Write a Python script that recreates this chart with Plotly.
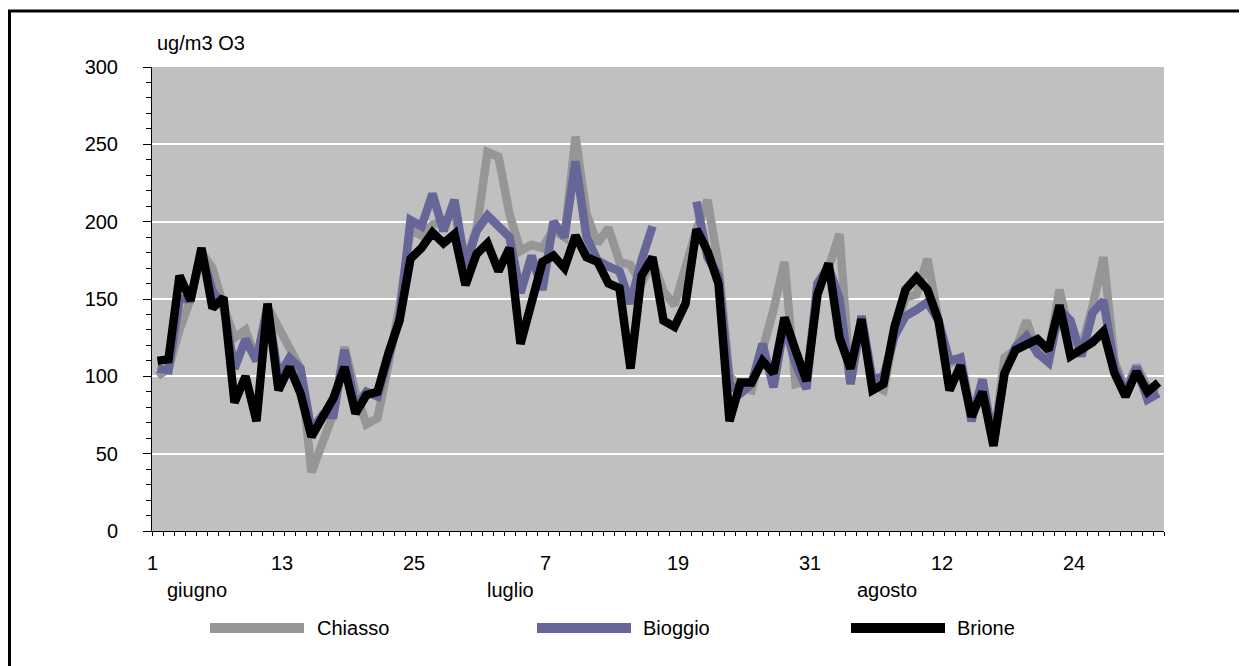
import plotly.graph_objects as go

# ---------------- data ----------------
days = list(range(1, 93))  # 1 June .. 31 August

chiasso = [100, 105, 130, 150, 180, 170, 145, 125, 130, 110,
           145, 132, 118, 105, 38, 59, 76, 119, 90, 69,
           73, 108, 145, 195, 191, 198, 200, 205, 175, 195,
           245, 242, 205, 181, 185, 183, 195, 190, 255, 205,
           186, 196, 174, 172, 160, 175, 155, 146, 170, 195,
           214, 172, 100, 93, 91, 115, 143, 174, 95, 97,
           160, 170, 192, 95, 136, 95, 91, 128, 151, 153,
           176, 136, 108, 112, 76, 95, 57, 112, 117, 136,
           115, 115, 156, 125, 119, 145, 177, 110, 91, 107,
           93, 91]

bioggio = [105, 104, 150, 150, 180, 155, 145, 105, 124, 110,
           145, 100, 112, 105, 65, 75, 75, 117, 80, 90,
           87, 115, 138, 201, 197, 218, 194, 214, 171, 194,
           204, 197, 190, 154, 178, 156, 200, 190, 239, 190,
           175, 171, 168, 147, 175, 197, None, None, None, 213,
           177, 165, 95, 89, 95, 121, 93, 134, 108, 92,
           160, 171, 150, 95, 139, 98, 100, 126, 139, 143,
           148, 136, 110, 112, 71, 98, 58, 102, 119, 126,
           115, 109, 143, 136, 113, 141, 149, 106, 89, 106,
           85, 89]

brione = [110, 111, 165, 149, 183, 144, 151, 83, 100, 71,
          147, 91, 106, 89, 61, 73, 86, 106, 76, 88,
          90, 115, 136, 176, 183, 193, 186, 192, 159, 179,
          186, 168, 183, 121, 147, 174, 178, 170, 191, 177,
          174, 160, 157, 105, 165, 177, 136, 132, 147, 195,
          181, 160, 71, 96, 96, 110, 102, 138, 117, 97,
          153, 173, 125, 105, 137, 91, 95, 132, 156, 164,
          156, 136, 91, 107, 74, 90, 55, 102, 117, 120,
          124, 117, 146, 113, 117, 122, 129, 102, 87, 103,
          90, 96]

series_names = ["Chiasso", "Bioggio", "Brione"]
series_colors = ["#969696", "#666699", "#000000"]

tick_days = [1, 13, 25, 37, 49, 61, 73, 85]
tick_labels = ["1", "13", "25", "7", "19", "31", "12", "24"]
month_names = ["giugno", "luglio", "agosto"]
month_centers = [4.6, 33.1, 67.3]
y_ticks = [0, 50, 100, 150, 200, 250, 300]
unit_label = "ug/m3 O3"

# ---------------- figure ----------------
FONT = "Liberation Sans, Arial, sans-serif"
W, H = 1247, 666
OFF = 8  # page body margin
# plot area in page pixels
PX0, PX1, PY0, PY1 = 152, 1164, 67, 531
L, T = PX0 - OFF, PY0 - OFF
R, B = W - (PX1 - OFF), H - (PY1 - OFF)
PW, PH = PX1 - PX0, PY1 - PY0
X_MIN, X_MAX = days[0] - 0.5, days[-1] + 0.5


def px_x(px):
    return (px - PX0) / PW


def px_y(py):
    return (PY1 - py) / PH


def day_to_paper(x):
    return (x - X_MIN) / (X_MAX - X_MIN)


fig = go.Figure()
for name, vals, col in zip(series_names, [chiasso, bioggio, brione], series_colors):
    fig.add_trace(go.Scatter(x=days, y=vals, mode="lines", name=name,
                             line=dict(color=col, width=8.5),
                             connectgaps=False, showlegend=False))

# category-boundary ticks (one per day)
bounds = [d - 0.5 for d in days] + [days[-1] + 0.5]

fig.update_xaxes(range=[X_MIN, X_MAX], showgrid=False, zeroline=False,
                 showline=True, linecolor="black", linewidth=1,
                 tickmode="array", tickvals=bounds, showticklabels=False,
                 ticks="outside", ticklen=4, tickcolor="black", tickwidth=1)
fig.update_yaxes(range=[0, 300], tickvals=y_ticks, showgrid=True,
                 gridcolor="white", gridwidth=2, zeroline=False,
                 showline=True, linecolor="black", linewidth=1,
                 ticks="outside", ticklen=8, tickcolor="black", tickwidth=1,
                 ticklabelstandoff=21,
                 minor=dict(dtick=10, ticks="outside", ticklen=5,
                            tickcolor="black", showgrid=False),
                 tickfont=dict(family=FONT, size=20, color="black"))

annotations = []
annotations.append(dict(text=unit_label, xref="paper", yref="paper",
                        x=px_x(155), y=px_y(43), xanchor="left", yanchor="middle",
                        showarrow=False, font=dict(family=FONT, size=20, color="black")))
for d, t in zip(tick_days, tick_labels):
    annotations.append(dict(text=t, xref="paper", yref="paper",
                            x=day_to_paper(max(d - 0.72, X_MIN + 0.05)), y=px_y(563),
                            xanchor="center", yanchor="middle", showarrow=False,
                            font=dict(family=FONT, size=20, color="black")))
for m, c in zip(month_names, month_centers):
    annotations.append(dict(text=m, xref="paper", yref="paper", x=day_to_paper(c),
                            y=px_y(590), xanchor="center", yanchor="middle",
                            showarrow=False,
                            font=dict(family=FONT, size=20, color="black")))

shapes = []
leg_x = [(210, 304, 315), (537, 631, 641), (851, 945, 955)]
for (x0, x1, tx), name, col in zip(leg_x, series_names, series_colors):
    shapes.append(dict(type="line", xref="paper", yref="paper",
                       x0=px_x(x0), x1=px_x(x1), y0=px_y(628), y1=px_y(628),
                       line=dict(color=col, width=10)))
    annotations.append(dict(text=name, xref="paper", yref="paper",
                            x=px_x(tx), y=px_y(628), xanchor="left", yanchor="middle",
                            showarrow=False, font=dict(family=FONT, size=20, color="black")))

# outer frame
shapes.append(dict(type="rect", xref="paper", yref="paper",
                   x0=px_x(9.5), x1=px_x(1300), y0=px_y(720), y1=px_y(11),
                   line=dict(color="black", width=3), fillcolor="rgba(0,0,0,0)",
                   layer="above"))

fig.update_layout(width=W, height=H, autosize=False,
                  margin=dict(l=L, r=R, t=T, b=B, pad=0),
                  paper_bgcolor="white", plot_bgcolor="#C0C0C0",
                  font=dict(family=FONT, size=20, color="black"),
                  annotations=annotations, shapes=shapes, showlegend=False)

fig.write_html("out.html")
